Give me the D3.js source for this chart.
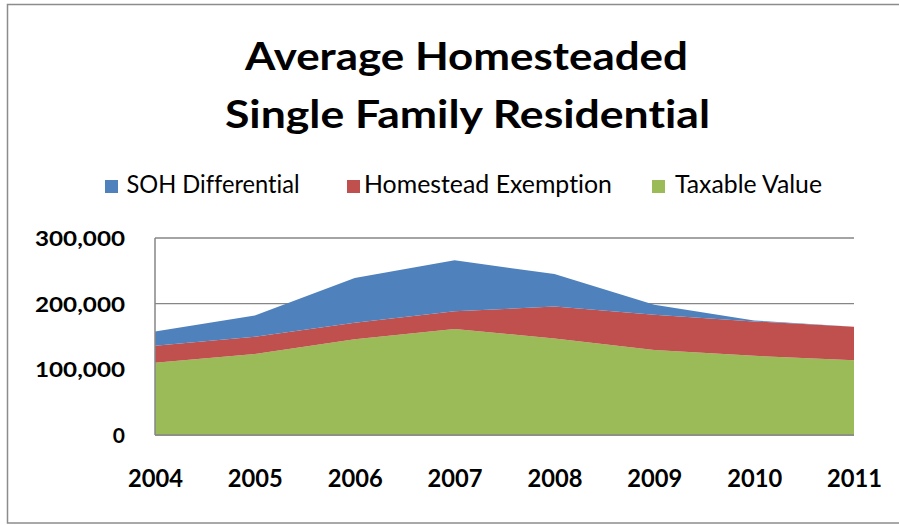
<!DOCTYPE html>
<html>
<head>
<meta charset="utf-8">
<script src="https://cdn.jsdelivr.net/npm/d3@7"></script>
<style>
  html, body { margin: 0; padding: 0; background: #fff; }
  svg { display: block; }
  text { font-family: Lato, "Open Sans", sans-serif; fill: #000; font-variant-ligatures: none; }
</style>
</head>
<body>
<svg id="chart" width="899" height="525"></svg>
<script>
// Average homesteaded single family residential values by tax year
const years = [2004, 2005, 2006, 2007, 2008, 2009, 2010, 2011];
const taxableValue = [110000, 123500, 146000, 161500, 147000, 129500, 120500, 114000];
const homesteadExemption = [26000, 26000, 25000, 27000, 48500, 53500, 52500, 51000];
const sohDifferential = [21500, 32500, 68000, 77500, 49500, 15500, 1500, 0];
const yTicks = [0, 100000, 200000, 300000];

const seriesNames = ["SOH Differential", "Homestead Exemption", "Taxable Value"];
const seriesColors = ["#4F81BD", "#C0504D", "#9BBB59"];
const titleLines = ["Average Homesteaded", "Single Family Residential"];

const rows = years.map((y, i) => ({
  year: y,
  "Taxable Value": taxableValue[i],
  "Homestead Exemption": homesteadExemption[i],
  "SOH Differential": sohDifferential[i]
}));

const svg = d3.select("#chart");

// outer frame
svg.append("rect")
  .attr("x", 7.5).attr("y", 4.5)
  .attr("width", 900).attr("height", 518.5)
  .attr("fill", "none").attr("stroke", "#8c8c8c").attr("stroke-width", 1.5);

const plot = { left: 155, right: 854, top: 238, bottom: 435 };

const x = d3.scalePoint().domain(years).range([plot.left, plot.right]);
const y = d3.scaleLinear().domain([0, 300000]).range([plot.bottom, plot.top]);

// title
const titleW = [443, 485];
const titleY = [70, 128];
svg.selectAll("text.title").data(titleLines).join("text")
  .attr("class", "title")
  .attr("x", (d, i) => i === 0 ? 466.5 : 467.5)
  .attr("y", (d, i) => titleY[i])
  .attr("text-anchor", "middle")
  .attr("font-size", 39)
  .attr("font-weight", "bold")
  .attr("textLength", (d, i) => titleW[i])
  .attr("lengthAdjust", "spacingAndGlyphs")
  .text(d => d);

// legend
const legendSq = [105, 347, 652];
const legendTx = [126.5, 364, 675];
const legendW = [173, 248, 147];
const legend = svg.append("g");
seriesNames.forEach((name, i) => {
  legend.append("rect")
    .attr("x", legendSq[i]).attr("y", 180)
    .attr("width", 13).attr("height", 13)
    .attr("fill", seriesColors[i]);
  legend.append("text")
    .attr("x", legendTx[i]).attr("y", 192.5)
    .attr("font-size", 24.5)
    .attr("textLength", legendW[i])
    .attr("lengthAdjust", "spacingAndGlyphs")
    .text(name);
});

// gridlines
svg.append("g").selectAll("line").data(yTicks).join("line")
  .attr("x1", plot.left).attr("x2", plot.right)
  .attr("y1", d => y(d)).attr("y2", d => y(d))
  .attr("stroke", "#868686").attr("stroke-width", 1.3);

// stacked areas, bottom to top
const stackOrder = ["Taxable Value", "Homestead Exemption", "SOH Differential"];
const stacked = d3.stack().keys(stackOrder)(rows);
const area = d3.area()
  .x(d => x(d.data.year))
  .y0(d => y(d[0]))
  .y1(d => y(d[1]));

svg.append("g").selectAll("path").data(stacked).join("path")
  .attr("d", area)
  .attr("fill", s => seriesColors[seriesNames.indexOf(s.key)]);

// axis lines
svg.append("line")
  .attr("x1", plot.left).attr("x2", plot.right)
  .attr("y1", plot.bottom).attr("y2", plot.bottom)
  .attr("stroke", "#868686").attr("stroke-width", 1.5);
svg.append("line")
  .attr("x1", plot.left).attr("x2", plot.left)
  .attr("y1", plot.top).attr("y2", plot.bottom)
  .attr("stroke", "#868686").attr("stroke-width", 1.5);

// y axis labels
const yAxis = svg.append("g")
  .attr("transform", `translate(${plot.left},0)`)
  .call(d3.axisLeft(y).tickValues(yTicks).tickFormat(d3.format(",")).tickSize(0).tickPadding(30));
yAxis.select(".domain").remove();
yAxis.selectAll("text")
  .attr("font-size", 21)
  .attr("font-weight", "bold")
  .attr("fill", "#000")
  .style("font-family", "Lato, \"Open Sans\", sans-serif")
  .attr("dy", "0.35em")
  .each(function(d) {
    if (d > 0) d3.select(this).attr("textLength", 90).attr("lengthAdjust", "spacingAndGlyphs");
  });

// x axis labels
const xAxis = svg.append("g")
  .attr("transform", `translate(0,${plot.bottom})`)
  .call(d3.axisBottom(x).tickSize(0).tickPadding(34));
xAxis.select(".domain").remove();
xAxis.selectAll("text")
  .attr("font-size", 25)
  .attr("font-weight", "bold")
  .attr("fill", "#000")
  .attr("textLength", 55)
  .attr("lengthAdjust", "spacingAndGlyphs")
  .style("font-family", "Lato, \"Open Sans\", sans-serif");
</script>
</body>
</html>
